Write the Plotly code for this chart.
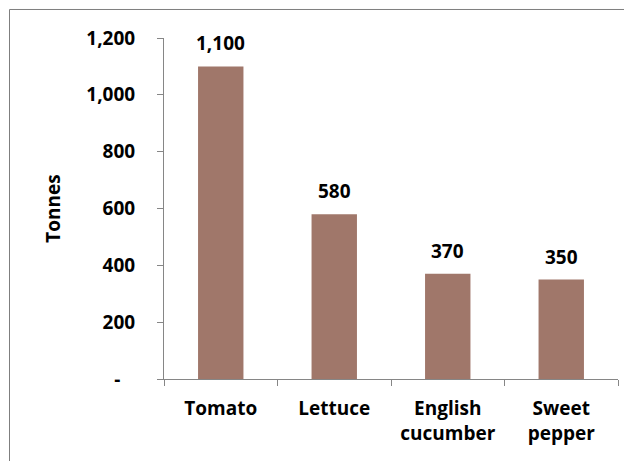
import plotly.graph_objects as go

categories = ["Tomato", "Lettuce", "English<br>cucumber", "Sweet<br>pepper"]
tonnes = [1100, 580, 370, 350]
value_labels = ["1,100", "580", "370", "350"]
y_tickvals = [0, 200, 400, 600, 800, 1000, 1200]
y_ticktext = ["-\u00a0\u00a0\u00a0", "200", "400", "600", "800", "1,000", "1,200"]

BAR = "#A0776A"
AXIS = "#868686"
FONT = dict(family="Open Sans", size=19, color="black", weight="bold")

fig = go.Figure()
fig.add_trace(go.Bar(x=categories, y=tonnes, marker_color=BAR,
                     marker_line_width=0, width=0.4))

# data labels above bars
for c, v, t in zip(categories, tonnes, value_labels):
    fig.add_annotation(x=c, y=v, text=t, showarrow=False,
                       yanchor="bottom", yshift=8, font=FONT)

# outer chart border (Excel chart area), runs off the right/bottom edge
fig.add_shape(type="rect", xref="paper", yref="paper",
              x0=-0.3403, x1=1.2, y0=-0.5, y1=1.0836,
              line=dict(color="#7f7f7f", width=1), layer="above")

fig.update_layout(
    width=632, height=461,
    margin=dict(l=156, r=22, t=30, b=90),
    plot_bgcolor="white", paper_bgcolor="white",
    font=FONT, showlegend=False, bargap=0.6,
)
fig.update_xaxes(
    type="category", showline=True, linecolor=AXIS, linewidth=1,
    ticks="outside", tickson="boundaries", ticklen=6, tickcolor=AXIS,
    tickfont=FONT, ticklabelstandoff=12, showgrid=False,
)
fig.update_yaxes(
    range=[0, 1200], tickvals=y_tickvals, ticktext=y_ticktext,
    showline=True, linecolor=AXIS, linewidth=1,
    ticks="outside", ticklen=6, tickcolor=AXIS, showgrid=False,
    zeroline=False, tickfont=FONT, ticklabelstandoff=18,
    title=dict(text="Tonnes", standoff=20, font=FONT),
)

fig.write_html("out.html")
